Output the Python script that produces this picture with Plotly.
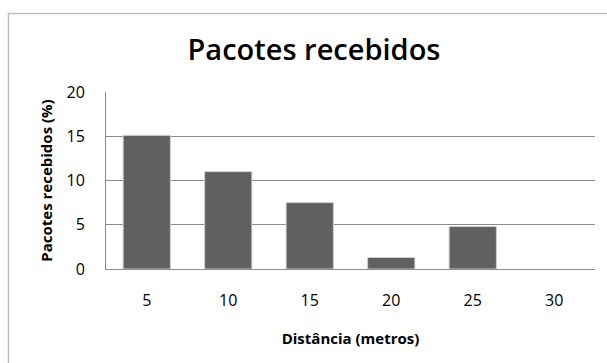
import plotly.graph_objects as go

# Distance categories (metres) and percentage of packets received
distancias = ["5", "10", "15", "20", "25", "30"]
pacotes_pct = [15.1, 11.0, 7.5, 1.3, 4.8, 0.0]
y_ticks = [0, 5, 10, 15, 20]

W, H = 607, 363
L, R, T, B = 106, 12, 92, 94
pw, ph = W - L - R, H - T - B

FONT = "Open Sans"

# no outline on empty bars so a zero value leaves no mark
outline_w = [1 if v > 0 else 0 for v in pacotes_pct]

fig = go.Figure(
    go.Bar(
        x=distancias,
        y=pacotes_pct,
        width=0.58,
        marker=dict(color="#606060", line=dict(color="#cfcfcf", width=outline_w)),
    )
)

fig.update_layout(
    width=W,
    height=H,
    margin=dict(l=L, r=R, t=T, b=B),
    paper_bgcolor="white",
    plot_bgcolor="white",
    showlegend=False,
    font=dict(family=FONT, color="#000000"),
    title=dict(
        text="Pacotes recebidos",
        x=314 / W,
        xanchor="center",
        y=1 - 50 / H,
        yanchor="middle",
        font=dict(family=FONT, size=29, color="#000000", weight=600),
    ),
    bargap=0.42,
)

fig.update_xaxes(
    type="category",
    showline=True,
    linecolor="#8c8c8c",
    linewidth=1,
    showgrid=False,
    ticks="",
    tickfont=dict(family=FONT, size=16),
    ticklabelstandoff=17,
    title=dict(
        text="Distância (metros)",
        font=dict(family=FONT, size=15, weight="bold"),
        standoff=23,
    ),
)

fig.update_yaxes(
    range=[0, 20],
    tickvals=y_ticks,
    showline=True,
    linecolor="#8c8c8c",
    linewidth=1,
    showgrid=True,
    gridcolor="#8c8c8c",
    gridwidth=1,
    zeroline=False,
    ticks="",
    tickfont=dict(family=FONT, size=16),
    ticklabelstandoff=17,
    title=dict(
        text="Pacotes recebidos (%)",
        font=dict(family=FONT, size=15, weight="bold"),
        standoff=10,
    ),
)

# Outer chart frame (left and top edges visible)
fig.add_shape(
    type="rect",
    xref="paper",
    yref="paper",
    x0=(8.5 - L) / pw,
    x1=(W + 20 - L) / pw,
    y0=-(B + 20) / ph,
    y1=(H - 13.5 - B) / ph,
    line=dict(color="#b8c0c8", width=1.5),
    fillcolor="rgba(0,0,0,0)",
    layer="below",
)

fig.write_html("out.html")
